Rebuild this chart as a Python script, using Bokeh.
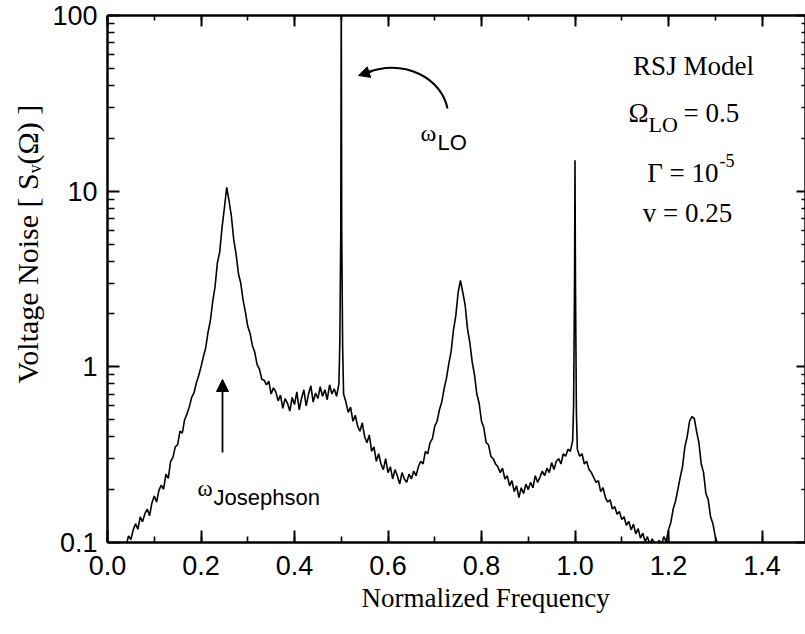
from bokeh.plotting import figure
from bokeh.models import (Range1d, LinearAxis, LogAxis, FixedTicker, SingleIntervalTicker,
                          CustomJSTickFormatter, PrintfTickFormatter, Label, Arrow, NormalHead,
                          LogScale, Title)
from bokeh.embed import file_html
from bokeh.resources import INLINE

# ---------------- data ----------------
freq = [0.035, 0.040, 0.045, 0.050, 0.055, 0.060, 0.065, 0.070, 0.075, 0.080,
        0.085, 0.090, 0.095, 0.100, 0.105, 0.110, 0.115, 0.120, 0.125, 0.130,
        0.135, 0.140, 0.145, 0.150, 0.155, 0.160, 0.165, 0.170, 0.175, 0.180,
        0.185, 0.190, 0.195, 0.200, 0.205, 0.210, 0.215, 0.220, 0.225, 0.230,
        0.235, 0.240, 0.245, 0.250, 0.255, 0.260, 0.265, 0.270, 0.275, 0.280,
        0.285, 0.290, 0.295, 0.300, 0.305, 0.310, 0.315, 0.320, 0.325, 0.330,
        0.335, 0.340, 0.345, 0.350, 0.355, 0.360, 0.365, 0.370, 0.375, 0.380,
        0.385, 0.390, 0.395, 0.400, 0.405, 0.410, 0.415, 0.420, 0.425, 0.430,
        0.435, 0.440, 0.445, 0.450, 0.455, 0.460, 0.465, 0.470, 0.475, 0.480,
        0.485, 0.490, 0.495, 0.497, 0.499, 0.500, 0.501, 0.503, 0.505, 0.510,
        0.515, 0.520, 0.525, 0.530, 0.535, 0.540, 0.545, 0.550, 0.555, 0.560,
        0.565, 0.570, 0.575, 0.580, 0.585, 0.590, 0.595, 0.600, 0.605, 0.610,
        0.615, 0.620, 0.625, 0.630, 0.635, 0.640, 0.645, 0.650, 0.655, 0.660,
        0.665, 0.670, 0.675, 0.680, 0.685, 0.690, 0.695, 0.700, 0.705, 0.710,
        0.715, 0.720, 0.725, 0.730, 0.735, 0.740, 0.745, 0.750, 0.755, 0.760,
        0.765, 0.770, 0.775, 0.780, 0.785, 0.790, 0.795, 0.800, 0.805, 0.810,
        0.815, 0.820, 0.825, 0.830, 0.835, 0.840, 0.845, 0.850, 0.855, 0.860,
        0.865, 0.870, 0.875, 0.880, 0.885, 0.890, 0.895, 0.900, 0.905, 0.910,
        0.915, 0.920, 0.925, 0.930, 0.935, 0.940, 0.945, 0.950, 0.955, 0.960,
        0.965, 0.970, 0.975, 0.980, 0.985, 0.990, 0.995, 0.997, 0.999, 1.000,
        1.001, 1.003, 1.005, 1.010, 1.015, 1.020, 1.025, 1.030, 1.035, 1.040,
        1.045, 1.050, 1.055, 1.060, 1.065, 1.070, 1.075, 1.080, 1.085, 1.090,
        1.095, 1.100, 1.105, 1.110, 1.115, 1.120, 1.125, 1.130, 1.135, 1.140,
        1.145, 1.150, 1.155, 1.160, 1.165, 1.170, 1.175, 1.180, 1.185, 1.190,
        1.195, 1.200, 1.205, 1.210, 1.215, 1.220, 1.225, 1.230, 1.235, 1.240,
        1.245, 1.250, 1.255, 1.260, 1.265, 1.270, 1.275, 1.280, 1.285, 1.290,
        1.295, 1.300, 1.305]

sv = [0.100, 0.097, 0.109, 0.104, 0.118, 0.128, 0.119, 0.140, 0.131, 0.146,
      0.155, 0.142, 0.168, 0.184, 0.170, 0.198, 0.212, 0.201, 0.245, 0.232,
      0.29, 0.305, 0.35, 0.36, 0.43, 0.42, 0.50, 0.54, 0.59, 0.67,
      0.71, 0.81, 0.89, 1.00, 1.14, 1.28, 1.57, 1.83, 2.35, 2.85,
      3.9, 4.5, 6.2, 8.0, 10.5, 8.8, 7.2, 5.3, 4.4, 3.4,
      3.0, 2.4, 2.05, 1.7, 1.55, 1.32, 1.21, 1.03, 0.97, 0.85,
      0.84, 0.79, 0.83, 0.70, 0.76, 0.72, 0.64, 0.69, 0.58, 0.66,
      0.62, 0.56, 0.67, 0.61, 0.72, 0.57, 0.66, 0.74, 0.60, 0.70,
      0.78, 0.63, 0.71, 0.66, 0.77, 0.68, 0.74, 0.65, 0.79, 0.70,
      0.75, 0.68, 0.80, 1.4, 6.0, 150.0, 6.0, 1.3, 0.70, 0.63,
      0.55, 0.59, 0.49, 0.53, 0.46, 0.43, 0.48, 0.40, 0.37, 0.41,
      0.33, 0.35, 0.29, 0.32, 0.28, 0.26, 0.30, 0.25, 0.27, 0.23,
      0.26, 0.24, 0.215, 0.25, 0.23, 0.22, 0.245, 0.23, 0.255, 0.24,
      0.27, 0.29, 0.28, 0.33, 0.32, 0.37, 0.39, 0.46, 0.49, 0.57,
      0.63, 0.75, 0.86, 1.04, 1.22, 1.62, 1.95, 2.65, 3.1, 2.65,
      2.25, 1.65, 1.38, 1.07, 0.90, 0.70, 0.62, 0.49, 0.45, 0.37,
      0.36, 0.31, 0.30, 0.28, 0.27, 0.25, 0.265, 0.23, 0.24, 0.21,
      0.225, 0.195, 0.21, 0.18, 0.205, 0.19, 0.215, 0.20, 0.22, 0.205,
      0.24, 0.22, 0.235, 0.255, 0.24, 0.265, 0.25, 0.285, 0.26, 0.29,
      0.30, 0.28, 0.32, 0.31, 0.34, 0.33, 0.38, 0.6, 3.0, 15.0,
      3.0, 0.55, 0.34, 0.31, 0.32, 0.28, 0.29, 0.26, 0.25, 0.235,
      0.22, 0.225, 0.195, 0.205, 0.18, 0.17, 0.175, 0.155, 0.16, 0.145,
      0.15, 0.135, 0.14, 0.125, 0.132, 0.118, 0.127, 0.112, 0.12, 0.106,
      0.113, 0.101, 0.108, 0.097, 0.105, 0.099, 0.096, 0.103, 0.097, 0.108,
      0.101, 0.118, 0.13, 0.155, 0.172, 0.20, 0.235, 0.27, 0.35, 0.40,
      0.49, 0.52, 0.51, 0.43, 0.37, 0.28, 0.25, 0.19, 0.175, 0.14,
      0.128, 0.108, 0.098]

x_tick_step = 0.2
y_ticks = [0.1, 1, 10, 100]
y_minor = [0.2, 0.3, 0.4, 0.5, 0.6, 0.7, 0.8, 0.9,
           2, 3, 4, 5, 6, 7, 8, 9,
           20, 30, 40, 50, 60, 70, 80, 90]
x_title = "Normalized Frequency"
y_title = "Voltage Noise [ S\u1d65(\u03a9) ]"

# ---------------- layout ----------------
W, H = 805, 634
FL, FR, FT, FB = 107, 805, 15, 542        # frame edges in pixels
PX_PER_X = 467.5                          # pixels per unit of frequency
X_MAX = (FR - FL) / PX_PER_X
Y_MIN, Y_MAX = 0.1, 100.0
DEC = (FB - FT) / 3.0                     # pixels per decade


def fx(px):
    return (px - FL) / PX_PER_X


def fy(py):
    return 10 ** (-1 + (FB - py) / DEC)


p = figure(width=W, height=H, output_backend="svg", toolbar_location=None,
           x_range=Range1d(0, X_MAX), y_range=Range1d(Y_MIN, Y_MAX),
           x_axis_location=None, y_axis_location=None,
           min_border_left=FL, min_border_right=W - FR,
           min_border_top=FT, min_border_bottom=H - FB)
p.y_scale = LogScale()
p.outline_line_color = None
p.background_fill_color = "white"
p.border_fill_color = "white"
for r in list(p.center):
    r.visible = False

blank = CustomJSTickFormatter(code="return ''")


def style(ax, maj_in, min_in, labels=True):
    ax.axis_line_width = 2.5
    ax.axis_line_color = "black"
    ax.major_tick_in = maj_in
    ax.major_tick_out = 0
    ax.minor_tick_in = min_in
    ax.minor_tick_out = 0
    ax.major_tick_line_width = 2
    ax.minor_tick_line_width = 1.6
    ax.major_tick_line_color = "black"
    ax.minor_tick_line_color = "black"
    ax.major_label_text_font = "Liberation Sans"
    ax.major_label_text_color = "black"
    if labels:
        ax.major_label_text_font_size = "27px"
    else:
        ax.major_label_text_font_size = "1px"
        ax.major_label_standoff = 0


xt = SingleIntervalTicker(interval=x_tick_step, num_minor_ticks=2)
bottom = LinearAxis(ticker=xt, formatter=PrintfTickFormatter(format="%.1f"))
style(bottom, 12, 6)
bottom.major_label_standoff = 13
p.add_layout(bottom, "below")

top = LinearAxis(ticker=SingleIntervalTicker(interval=x_tick_step, num_minor_ticks=2), formatter=blank)
style(top, 11, 5, labels=False)
p.add_layout(top, "above")

yt = FixedTicker(ticks=y_ticks, minor_ticks=y_minor)
left = LogAxis(ticker=yt, formatter=CustomJSTickFormatter(
    code="return tick >= 1 ? tick.toFixed(0) : tick.toFixed(1);"))
style(left, 12, 7)
left.major_label_standoff = 10
p.add_layout(left, "left")

right = LogAxis(ticker=FixedTicker(ticks=y_ticks, minor_ticks=y_minor), formatter=blank)
style(right, 9, 4, labels=False)
right.minor_tick_line_width = 1.3
p.add_layout(right, "right")

# axis titles (as side titles so they can be shifted along the axis)
p.add_layout(Title(text=x_title, align="left", offset=254, standoff=7,
                   text_font="Liberation Serif", text_font_size="27px",
                   text_font_style="normal", text_color="black"), "below")
p.add_layout(Title(text=y_title, align="left", offset=159, standoff=12,
                   text_font="Liberation Serif", text_font_size="30px",
                   text_font_style="normal", text_color="black"), "left")

# ---------------- curve ----------------
p.line(freq, sv, line_color="black", line_width=1.6)


# ---------------- annotations ----------------
def txt(px, py, s, size, font="Liberation Serif", align="left", angle=0):
    """Text inside the frame, placed by its pixel position (converted to data)."""
    p.add_layout(Label(x=fx(px), y=fy(py), text=s, text_font=font,
                       text_font_size=f"{size}px", text_align=align,
                       text_baseline="alphabetic", angle=angle, angle_units="deg",
                       text_color="black"))


# model parameters
txt(693, 65, "RSJ Model", 27, align="center")
txt(628, 112, "\u03a9", 27)
txt(648, 124, "LO", 22)
txt(683, 112, "= 0.5", 27)
txt(718, 172, "\u0393 = 10", 27, align="right")
txt(719, 160, "-5", 18)
txt(687, 212, "v = 0.25", 27, align="center")

# omega_LO
txt(420, 132, "\u03c9", 24)
txt(437, 142, "LO", 22, font="Liberation Sans")
p.bezier(x0=[fx(447)], y0=[fy(108)], x1=[fx(366)], y1=[fy(72)],
         cx0=[fx(441)], cy0=[fy(78)], cx1=[fx(405)], cy1=[fy(58)],
         line_color="black", line_width=2)
p.add_layout(Arrow(end=NormalHead(size=11, fill_color="black", line_color="black"),
                   x_start=fx(372), y_start=fy(70.5), x_end=fx(358), y_end=fy(75),
                   line_color="black", line_width=2))

# omega_Josephson
txt(197, 488, "\u03c9", 23)
txt(213, 497, "Josephson", 22, font="Liberation Sans")
p.add_layout(Arrow(end=NormalHead(size=12, fill_color="black", line_color="black"),
                   x_start=fx(222), y_start=fy(452), x_end=fx(222), y_end=fy(379),
                   line_color="black", line_width=1.8))

open("out.html", "w").write(file_html(p, INLINE))
